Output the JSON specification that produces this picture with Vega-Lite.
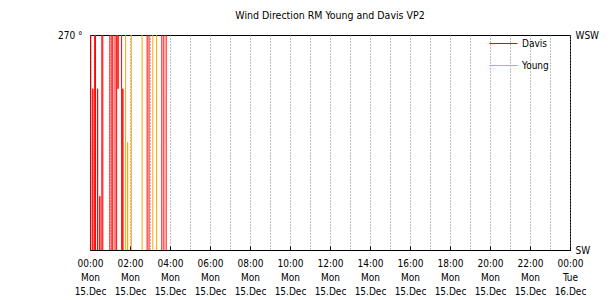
{
  "$schema": "https://vega.github.io/schema/vega-lite/v6.json",
  "autosize": "none",
  "width": 480,
  "height": 215,
  "padding": {"left": 90, "top": 35, "right": 40, "bottom": 50},
  "background": "white",
  "config": {
    "font": "DejaVu Sans Condensed, Liberation Sans",
    "view": {"stroke": "black", "strokeWidth": 1},
    "axis": {"labelFont": "DejaVu Sans Condensed, Liberation Sans", "labelFontSize": 10, "labelColor": "black", "domain": false}
  },
  "title": {
    "text": "Wind Direction RM Young and Davis VP2",
    "font": "DejaVu Sans Condensed, Liberation Sans",
    "fontSize": 10.5,
    "fontWeight": "normal",
    "color": "black",
    "anchor": "middle",
    "offset": 8
  },
  "data": {
    "values": [
      {"series": "Davis", "time": "2025-12-15 00:00:00", "dir": 300},
      {"series": "Davis", "time": "2025-12-15 00:02:24", "dir": 300},
      {"series": "Davis", "time": "2025-12-15 00:02:36", "dir": 190},
      {"series": "Davis", "time": "2025-12-15 00:08:24", "dir": 190},
      {"series": "Davis", "time": "2025-12-15 00:08:30", "dir": 258.75},
      {"series": "Davis", "time": "2025-12-15 00:08:36", "dir": 190},
      {"series": "Davis", "time": "2025-12-15 00:13:48", "dir": 190},
      {"series": "Davis", "time": "2025-12-15 00:14:00", "dir": 300},
      {"series": "Davis", "time": "2025-12-15 00:16:30", "dir": 300},
      {"series": "Davis", "time": "2025-12-15 00:16:42", "dir": 190},
      {"series": "Davis", "time": "2025-12-15 00:22:48", "dir": 190},
      {"series": "Davis", "time": "2025-12-15 00:22:54", "dir": 258.75},
      {"series": "Davis", "time": "2025-12-15 00:23:00", "dir": 190},
      {"series": "Davis", "time": "2025-12-15 00:29:24", "dir": 190},
      {"series": "Davis", "time": "2025-12-15 00:29:30", "dir": 236.25},
      {"series": "Davis", "time": "2025-12-15 00:29:36", "dir": 190},
      {"series": "Davis", "time": "2025-12-15 00:35:24", "dir": 190},
      {"series": "Davis", "time": "2025-12-15 00:35:36", "dir": 300},
      {"series": "Davis", "time": "2025-12-15 00:38:24", "dir": 300},
      {"series": "Davis", "time": "2025-12-15 00:38:36", "dir": 190},
      {"series": "Davis", "time": "2025-12-15 00:59:24", "dir": 190},
      {"series": "Davis", "time": "2025-12-15 00:59:36", "dir": 300},
      {"series": "Davis", "time": "2025-12-15 01:05:24", "dir": 300},
      {"series": "Davis", "time": "2025-12-15 01:05:36", "dir": 190},
      {"series": "Davis", "time": "2025-12-15 01:08:24", "dir": 190},
      {"series": "Davis", "time": "2025-12-15 01:08:36", "dir": 300},
      {"series": "Davis", "time": "2025-12-15 01:15:00", "dir": 300},
      {"series": "Davis", "time": "2025-12-15 01:15:12", "dir": 190},
      {"series": "Davis", "time": "2025-12-15 01:19:48", "dir": 190},
      {"series": "Davis", "time": "2025-12-15 01:20:00", "dir": 300},
      {"series": "Davis", "time": "2025-12-15 01:24:00", "dir": 300},
      {"series": "Davis", "time": "2025-12-15 01:24:06", "dir": 258.75},
      {"series": "Davis", "time": "2025-12-15 01:24:12", "dir": 300},
      {"series": "Davis", "time": "2025-12-15 01:34:48", "dir": 300},
      {"series": "Davis", "time": "2025-12-15 01:35:00", "dir": 190},
      {"series": "Davis", "time": "2025-12-15 01:38:24", "dir": 190},
      {"series": "Davis", "time": "2025-12-15 01:38:30", "dir": 258.75},
      {"series": "Davis", "time": "2025-12-15 01:38:36", "dir": 190},
      {"series": "Davis", "time": "2025-12-15 02:51:18", "dir": 190},
      {"series": "Davis", "time": "2025-12-15 02:51:30", "dir": 300},
      {"series": "Davis", "time": "2025-12-15 02:57:00", "dir": 300},
      {"series": "Davis", "time": "2025-12-15 02:57:12", "dir": 190},
      {"series": "Davis", "time": "2025-12-15 03:35:24", "dir": 190},
      {"series": "Davis", "time": "2025-12-15 03:35:36", "dir": 300},
      {"series": "Davis", "time": "2025-12-15 03:41:24", "dir": 300},
      {"series": "Davis", "time": "2025-12-15 03:41:36", "dir": 190},
      {"series": "Davis", "time": "2025-12-15 03:48:18", "dir": 190},
      {"series": "Davis", "time": "2025-12-15 03:48:30", "dir": 300},
      {"series": "Davis", "time": "2025-12-15 03:52:00", "dir": 300},
      {"series": "Young", "time": "2025-12-15 00:00:00", "dir": 300},
      {"series": "Young", "time": "2025-12-15 01:46:48", "dir": 300},
      {"series": "Young", "time": "2025-12-15 01:47:00", "dir": 190},
      {"series": "Young", "time": "2025-12-15 01:52:48", "dir": 190},
      {"series": "Young", "time": "2025-12-15 01:52:54", "dir": 247.5},
      {"series": "Young", "time": "2025-12-15 01:53:00", "dir": 190},
      {"series": "Young", "time": "2025-12-15 02:03:54", "dir": 190},
      {"series": "Young", "time": "2025-12-15 02:04:06", "dir": 300},
      {"series": "Young", "time": "2025-12-15 02:36:18", "dir": 300},
      {"series": "Young", "time": "2025-12-15 02:36:30", "dir": 190},
      {"series": "Young", "time": "2025-12-15 03:08:24", "dir": 190},
      {"series": "Young", "time": "2025-12-15 03:08:36", "dir": 300},
      {"series": "Young", "time": "2025-12-15 03:19:48", "dir": 300},
      {"series": "Young", "time": "2025-12-15 03:20:00", "dir": 190},
      {"series": "Young", "time": "2025-12-15 03:52:00", "dir": 190}
    ]
  },
  "layer": [
    {
      "transform": [{"filter": "datum.series == 'Davis'"}],
      "mark": {"type": "line", "clip": true, "strokeWidth": 1},
      "encoding": {
        "x": {
          "field": "time",
          "type": "temporal",
          "scale": {"domain": [{"year": 2025, "month": 12, "date": 15, "hours": 0}, {"year": 2025, "month": 12, "date": 16, "hours": 0}]},
          "axis": {
            "title": null,
            "orient": "bottom",
            "tickCount": 24,
            "labelExpr": "hours(datum.value) % 2 == 1 ? '' : [timeFormat(datum.value, '%H:%M'), timeFormat(datum.value, '%a'), timeFormat(datum.value, '%d.%b')]",
            "labelLineHeight": 14,
            "labelBaseline": "top",
            "labelPadding": 12,
            "tickColor": "black",
            "tickSize": -4,
            "tickOpacity": {"condition": {"test": "hours(datum.value) % 2 == 1", "value": 0}, "value": 1},
            "grid": true,
            "gridColor": "#808080",
            "gridDash": [1, 2],
            "labelFlush": false,
            "labelOverlap": false
          }
        },
        "y": {
          "field": "dir",
          "type": "quantitative",
          "scale": {"domain": [225, 270], "nice": false, "zero": false},
          "axis": {
            "title": null,
            "orient": "left",
            "values": [270],
            "labelExpr": "'270 °'",
            "grid": false,
            "tickColor": "black",
            "tickSize": -4,
            "labelPadding": 12
          }
        },
        "color": {
          "field": "series",
          "type": "nominal",
          "scale": {"domain": ["Davis", "Young"], "range": ["#ff0000", "#ffa500"]},
          "legend": {
            "title": null,
            "orient": "none",
            "legendX": 399,
            "legendY": -6,
            "symbolType": "stroke",
            "symbolSize": 784,
            "symbolStrokeWidth": 1,
            "labelFontSize": 10,
            "labelColor": "black"
          }
        }
      }
    },
    {
      "transform": [{"filter": "datum.series == 'Young'"}],
      "mark": {"type": "line", "clip": true, "strokeWidth": 1},
      "encoding": {
        "x": {"field": "time", "type": "temporal"},
        "y": {
          "field": "dir",
          "type": "quantitative",
          "axis": {
            "title": null,
            "orient": "right",
            "values": [225, 270],
            "labelExpr": "datum.value == 270 ? 'WSW' : 'SW'",
            "grid": false,
            "tickColor": "black",
            "tickSize": -4,
            "labelPadding": 9
          }
        },
        "color": {"field": "series", "type": "nominal"}
      }
    }
  ],
  "resolve": {"axis": {"y": "independent"}}
}
